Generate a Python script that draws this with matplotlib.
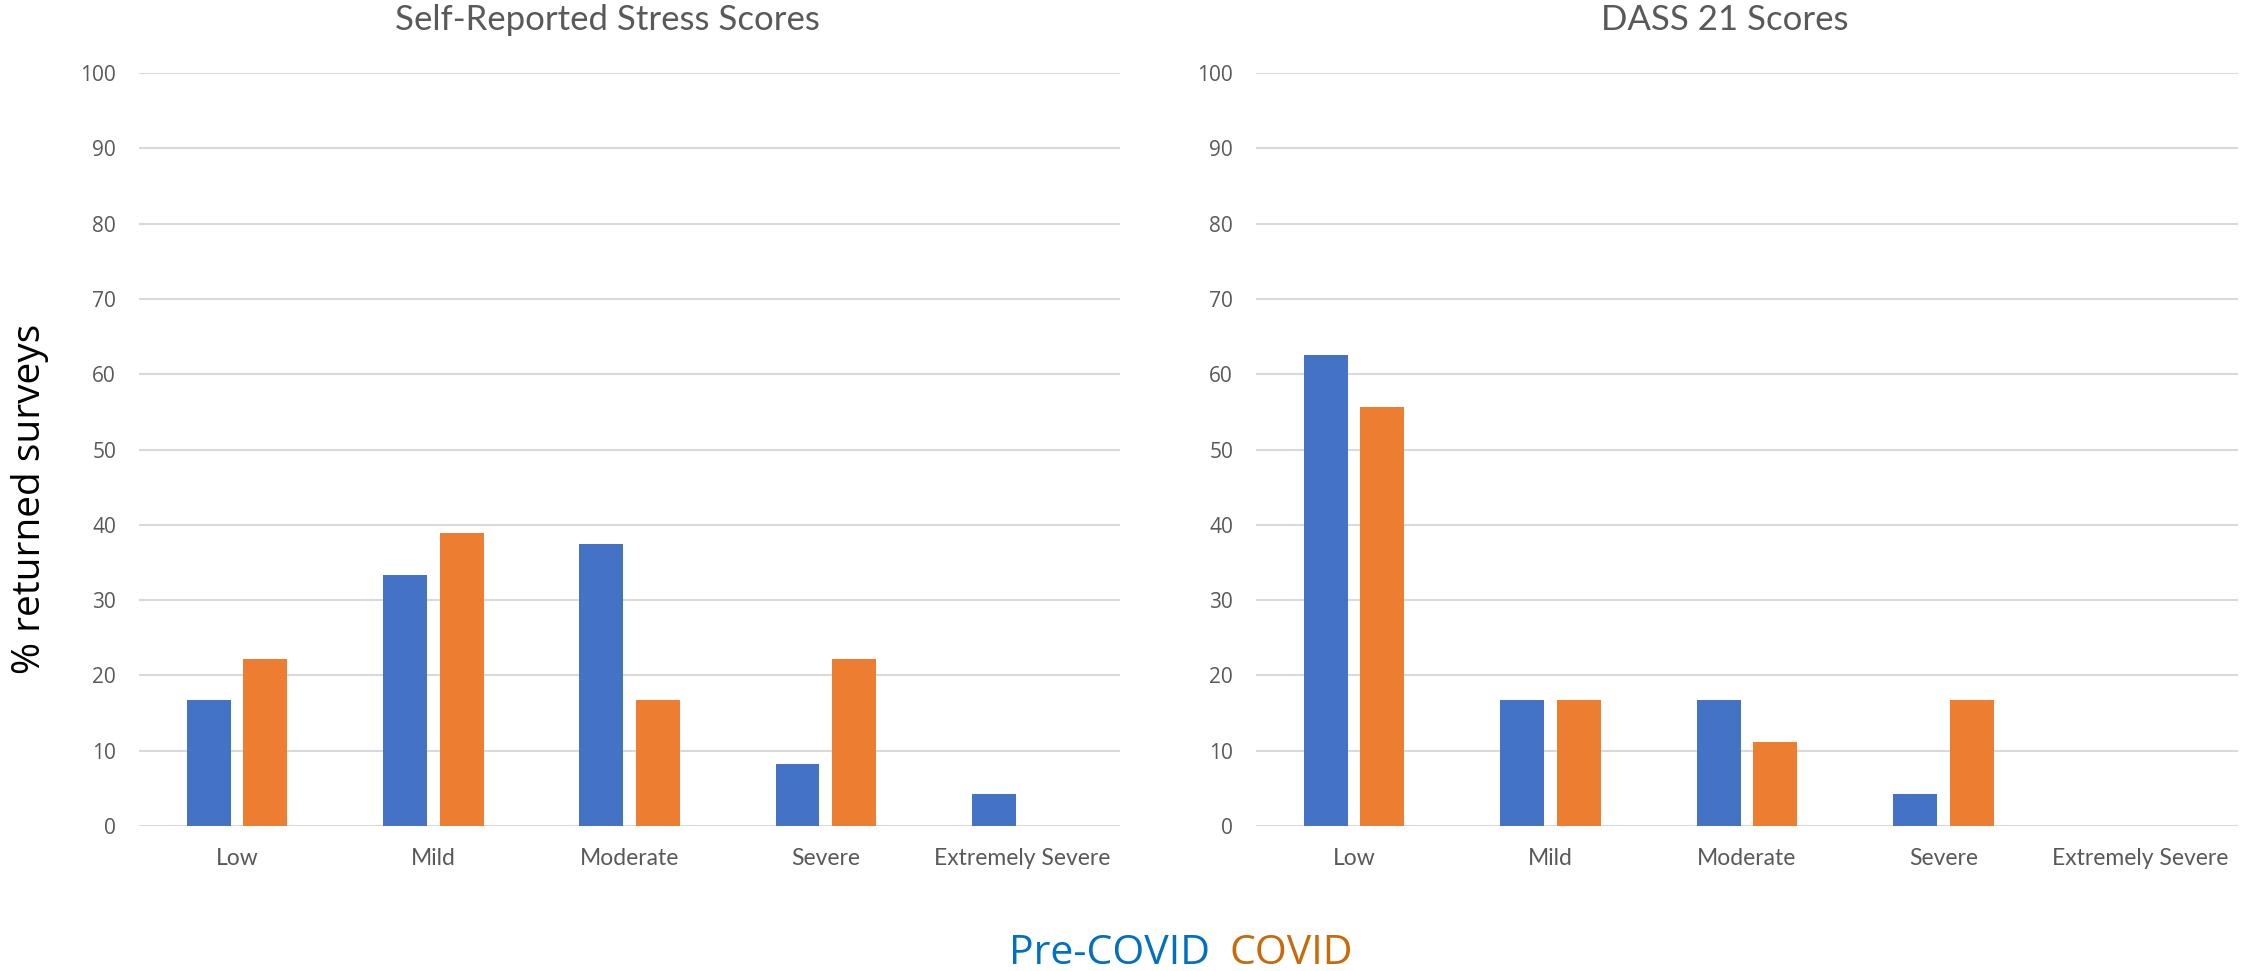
import numpy as np
import matplotlib
matplotlib.use("Agg")
import matplotlib.pyplot as plt

categories = ["Low", "Mild", "Moderate", "Severe", "Extremely Severe"]

# % of returned surveys in each band (pre-COVID n=24, COVID n=18)
self_pre = [16.7, 33.3, 37.5, 8.3, 4.2]
self_covid = [22.2, 38.9, 16.7, 22.2, 0.0]
dass_pre = [62.5, 16.7, 16.7, 4.2, 0.0]
dass_covid = [55.6, 16.7, 11.1, 16.7, 0.0]

titles = ["Self-Reported Stress Scores", "DASS 21 Scores"]
yticks = list(range(0, 101, 10))

blue = "#4472C4"
orange = "#ED7D31"
grey_txt = "#595959"
narrow = ["Lato", "DejaVu Sans"]

fig = plt.figure(figsize=(22.42, 9.71), dpi=100)
ax1 = fig.add_axes([0.062, 0.1493, 0.4376, 0.7755])
ax2 = fig.add_axes([0.5602, 0.1493, 0.4380, 0.7755])

x = np.arange(len(categories))
width = 0.224
off = 0.144

for ax, pre, cov, title in [(ax1, self_pre, self_covid, titles[0]),
                            (ax2, dass_pre, dass_covid, titles[1])]:
    ax.bar(x - off, pre, width, color=blue, zorder=3)
    ax.bar(x + off, cov, width, color=orange, zorder=3)
    ax.set_xlim(-0.5, len(categories) - 0.5)
    ax.set_ylim(0, 100)
    ax.set_yticks(yticks)
    ax.set_yticklabels([str(t) for t in yticks], family="Open Sans",
                       fontsize=15, color=grey_txt)
    ax.set_xticks(x)
    ax.set_xticklabels(categories, family=narrow, fontsize=16.5, color=grey_txt)
    ax.tick_params(axis="y", length=0, pad=16.5)
    ax.tick_params(axis="x", length=0, pad=16)
    ax.grid(axis="y", color="#D9D9D9", linewidth=1.5, zorder=0)
    for s in ax.spines.values():
        s.set_visible(False)
    pos = ax.get_position()
    cx = (pos.x0 + pos.x1) / 2 - 22 / 2242
    fig.text(cx, 0.969, title, ha="center", va="baseline",
             family=narrow, fontsize=25, color=grey_txt)

fig.text(0.0134, 0.486, "% returned surveys", rotation=90, ha="center",
         va="center", family="Open Sans", fontsize=28, color="black")

# colour-coded legend under the two panels
fig.text(0.5397, 0.0075, "Pre-COVID", ha="right", va="baseline",
         family="Open Sans", fontsize=29.5, color="#0070C0")
fig.text(0.5486, 0.0075, "COVID", ha="left", va="baseline",
         family="Open Sans", fontsize=29.5, color="#C86A0A")

fig.savefig("out.png", dpi=100)
